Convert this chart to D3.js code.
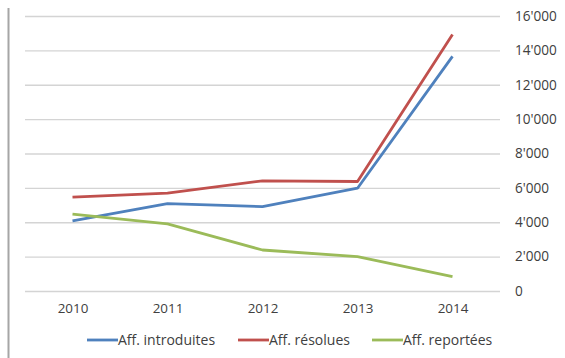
<!DOCTYPE html>
<html>
<head>
<meta charset="utf-8">
<script src="https://cdn.jsdelivr.net/npm/d3@7"></script>
<style>
  html, body { margin: 0; padding: 0; background: #fff; }
  svg { display: block; }
  text { font-family: "Open Sans", "Liberation Sans", sans-serif; fill: #404040; }
</style>
</head>
<body>
<svg id="chart" width="565" height="358"></svg>
<script>
// Case counts per year
const years = ["2010", "2011", "2012", "2013", "2014"];
const introduites = [4080, 5080, 4910, 5980, 13650];
const resolues = [5460, 5690, 6410, 6370, 14920];
const reportees = [4470, 3900, 2385, 1995, 830];
const seriesNames = ["Aff. introduites", "Aff. résolues", "Aff. reportées"];
const yTicks = [0, 2000, 4000, 6000, 8000, 10000, 12000, 14000, 16000];

const seriesColors = ["#4F81BD", "#C0504D", "#9BBB59"];
const series = [introduites, resolues, reportees].map((values, i) => ({
  name: seriesNames[i],
  color: seriesColors[i],
  values: values
}));

const svg = d3.select("#chart");
const plot = { left: 25, right: 500, top: 16, bottom: 291 };

const x = d3.scalePoint().domain(years).range([plot.left, plot.right]).padding(0.5);
const y = d3.scaleLinear().domain([0, 16000]).range([plot.bottom, plot.top]);

// Swiss-style thousands separator
const fmt = d3.formatLocale({ decimal: ".", thousands: "'", grouping: [3], currency: ["", ""] }).format(",");

// Frame line on the left edge
svg.append("line")
  .attr("x1", 8.5).attr("x2", 8.5)
  .attr("y1", 8).attr("y2", 358)
  .attr("stroke", "#a6a6a6").attr("stroke-width", 2);

// Right value axis with gridlines across the plot
const yAxis = svg.append("g")
  .attr("transform", `translate(${plot.right},0)`)
  .call(d3.axisRight(y).tickValues(yTicks).tickFormat(fmt)
    .tickSize(-(plot.right - plot.left)).tickPadding(15));
yAxis.select(".domain").remove();
yAxis.selectAll(".tick line").attr("stroke", "#d4d4d4").attr("stroke-width", 1.3);
yAxis.selectAll(".tick text")
  .attr("font-size", "13.6px").attr("fill", "#404040")
  .attr("font-family", "Open Sans, Liberation Sans, sans-serif");

// Category axis labels
const xAxis = svg.append("g")
  .attr("transform", `translate(0,${plot.bottom})`)
  .call(d3.axisBottom(x).tickSize(0).tickPadding(12));
xAxis.select(".domain").remove();
xAxis.selectAll(".tick text")
  .attr("font-size", "13.4px").attr("fill", "#404040")
  .attr("font-family", "Open Sans, Liberation Sans, sans-serif");

// Series lines
const line = d3.line()
  .x((d, i) => x(years[i]))
  .y(d => y(d));

svg.append("g").selectAll("path")
  .data(series)
  .join("path")
  .attr("d", d => line(d.values))
  .attr("fill", "none")
  .attr("stroke", d => d.color)
  .attr("stroke-width", 2.8)
  .attr("stroke-linejoin", "round")
  .attr("stroke-linecap", "butt");

// Legend below the chart
const legendY = 340;
const legendStarts = [87, 238, 372];
const legend = svg.append("g");
series.forEach((s, i) => {
  const g = legend.append("g").attr("transform", `translate(${legendStarts[i]},${legendY})`);
  g.append("line")
    .attr("x1", 0).attr("x2", 31)
    .attr("y1", 0).attr("y2", 0)
    .attr("stroke", s.color).attr("stroke-width", 2.8);
  g.append("text")
    .attr("x", 31).attr("y", 0)
    .attr("dy", "0.35em")
    .attr("font-size", "14px")
    .text(s.name);
});
</script>
</body>
</html>
